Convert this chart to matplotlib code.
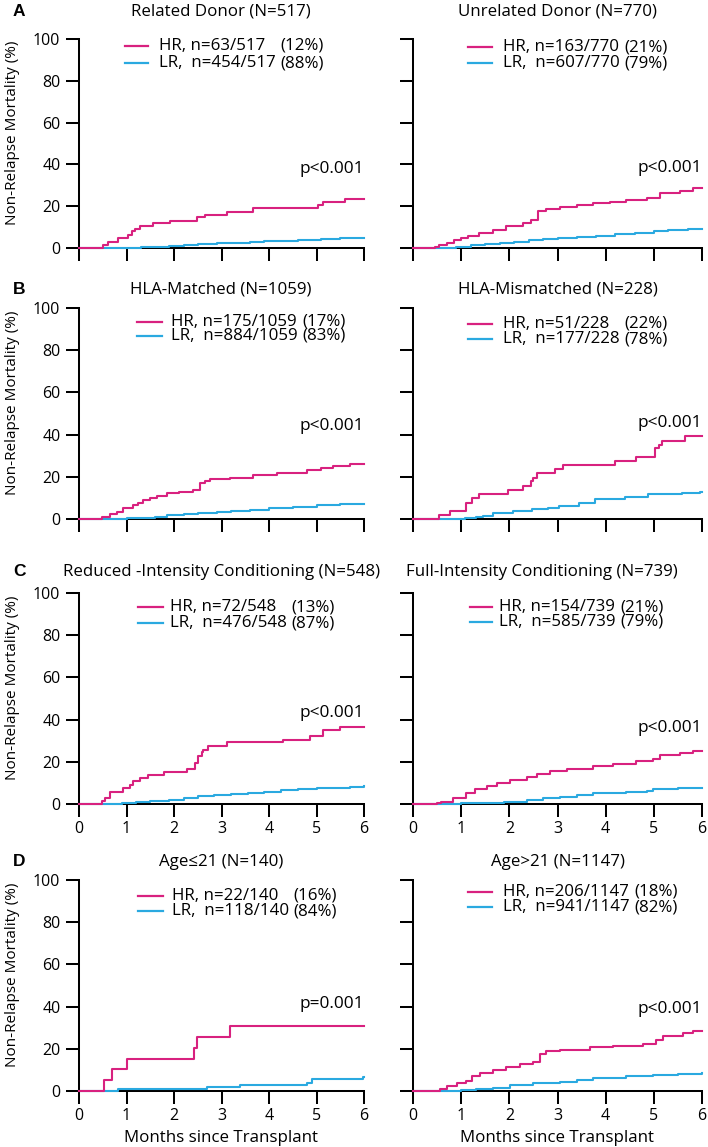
import matplotlib
matplotlib.use("Agg")
import matplotlib.pyplot as plt
from matplotlib.lines import Line2D

plt.rcParams["font.family"] = ["Open Sans", "DejaVu Sans"]

HR_COLOR = "#d8217f"
LR_COLOR = "#2aa9e0"

# months since transplant / cumulative NRM (%)
rd_hr_t = [0, 0.51, 0.62, 0.83, 1.04, 1.11, 1.18, 1.28, 1.56, 1.92, 2.48, 2.65, 3.11, 3.67, 5.04, 5.14, 5.6, 6]
rd_hr_y = [0, 1.4, 3.1, 4.7, 6.4, 8.1, 9.3, 10.4, 11.9, 13.1, 14.6, 16.0, 17.4, 19.0, 20.4, 21.9, 23.6, 23.6]
rd_lr_t = [0, 0.95, 1.3, 1.7, 1.9, 2.2, 2.5, 2.9, 3.2, 3.6, 3.9, 4.3, 4.6, 5.1, 5.5, 6]
rd_lr_y = [0, 0.2, 0.4, 0.7, 1.0, 1.4, 1.8, 2.2, 2.6, 2.9, 3.2, 3.5, 3.8, 4.3, 4.6, 4.6]

ud_hr_t = [0, 0.45, 0.55, 0.7, 0.85, 1.0, 1.15, 1.36, 1.67, 1.94, 2.29, 2.46, 2.6, 2.77, 3.05, 3.4,
           3.74, 4.1, 4.43, 4.85, 5.12, 5.54, 5.82, 6]
ud_hr_y = [0, 0.7, 1.5, 2.6, 3.6, 4.6, 5.8, 7.3, 8.8, 10.4, 12.0, 13.6, 17.5, 18.8, 19.8, 20.6,
           21.4, 22.1, 22.8, 24.0, 26.3, 27.5, 28.8, 28.8]
ud_lr_t = [0, 0.6, 0.9, 1.2, 1.5, 1.8, 2.1, 2.4, 2.7, 3.0, 3.4, 3.8, 4.2, 4.6, 5.0, 5.3, 5.7, 6]
ud_lr_y = [0, 0.2, 0.6, 1.2, 1.9, 2.5, 3.1, 3.7, 4.3, 4.8, 5.3, 5.9, 6.5, 7.2, 8.0, 8.7, 9.2, 9.3]

hm_hr_t = [0, 0.48, 0.65, 0.8, 0.93, 1.14, 1.25, 1.35, 1.5, 1.64, 1.85, 2.1, 2.41, 2.55, 2.65, 2.76,
           3.18, 3.67, 4.16, 4.79, 5.1, 5.35, 5.7, 6]
hm_hr_y = [0, 1.1, 2.5, 3.5, 5.0, 6.5, 7.4, 9.0, 10.0, 11.0, 12.1, 12.8, 13.7, 16.9, 18.0, 18.9,
           19.5, 20.8, 21.9, 23.1, 24.0, 25.0, 26.0, 26.0]
hm_lr_t = [0, 0.7, 1.0, 1.3, 1.6, 1.85, 2.2, 2.5, 2.9, 3.2, 3.6, 4.0, 4.5, 5.0, 5.5, 6]
hm_lr_y = [0, 0.2, 0.4, 0.7, 1.1, 1.8, 2.4, 3.0, 3.4, 3.8, 4.4, 5.0, 5.7, 6.4, 6.9, 6.9]

mm_hr_t = [0, 0.55, 0.77, 1.11, 1.22, 1.36, 1.98, 2.29, 2.46, 2.5, 2.57, 2.95, 3.12, 4.19, 4.64,
           5.02, 5.1, 5.16, 5.64, 6]
mm_hr_y = [0, 2.0, 4.0, 7.6, 9.8, 11.8, 13.9, 15.8, 18.2, 19.5, 21.6, 23.7, 25.6, 27.6, 29.5,
           33.5, 35.0, 37.1, 39.3, 39.3]
mm_lr_t = [0, 0.6, 1.07, 1.3, 1.46, 1.66, 2.07, 2.48, 2.8, 3.03, 3.44, 3.78, 4.4, 4.88, 5.58, 5.96, 6]
mm_lr_y = [0, 0.2, 0.5, 1.0, 1.6, 3.0, 3.9, 4.6, 5.4, 6.2, 7.4, 9.5, 10.4, 11.8, 12.4, 12.8, 12.8]

ric_hr_t = [0, 0.48, 0.55, 0.65, 0.93, 1.07, 1.14, 1.28, 1.46, 1.78, 2.27, 2.44, 2.51, 2.58, 2.62,
            2.72, 3.11, 4.3, 4.86, 5.14, 5.49, 6]
ric_hr_y = [0, 1.3, 3.0, 5.5, 7.6, 9.2, 11.0, 12.3, 13.6, 15.0, 16.6, 19.4, 22.6, 24.5, 25.8,
            27.6, 29.4, 30.5, 32.1, 35.2, 36.5, 36.5]
ric_lr_t = [0, 0.55, 0.9, 1.2, 1.5, 1.9, 2.2, 2.5, 2.85, 3.2, 3.55, 3.9, 4.25, 4.6, 5.0, 5.3, 5.7, 6]
ric_lr_y = [0, 0.2, 0.5, 0.9, 1.3, 2.0, 2.7, 3.6, 4.2, 4.6, 5.1, 5.7, 6.4, 7.0, 7.5, 7.8, 8.2, 8.3]

fic_hr_t = [0, 0.5, 0.59, 0.84, 1.11, 1.29, 1.53, 1.74, 2.01, 2.36, 2.57, 2.84, 3.19, 3.74, 4.16,
            4.64, 4.98, 5.12, 5.54, 5.82, 6]
fic_hr_y = [0, 0.5, 1.1, 2.7, 5.2, 7.1, 8.7, 10.0, 11.6, 12.7, 14.3, 15.6, 16.7, 17.9, 19.0,
            20.2, 21.1, 23.0, 24.1, 25.1, 25.1]
fic_lr_t = [0, 1.0, 1.4, 1.88, 2.36, 2.7, 3.05, 3.4, 3.74, 4.43, 4.85, 4.98, 5.5, 6]
fic_lr_y = [0, 0.3, 0.7, 1.1, 2.1, 2.7, 3.2, 4.2, 5.2, 5.9, 6.2, 7.1, 7.4, 7.5]

young_hr_t = [0, 0.53, 0.69, 1.0, 2.43, 2.48, 3.18, 6]
young_hr_y = [0, 5.2, 10.3, 15.4, 20.6, 25.4, 30.6, 30.6]
young_lr_t = [0, 0.55, 0.83, 2.69, 3.39, 4.79, 4.9, 5.97, 6]
young_lr_y = [0, 0.2, 1.0, 1.9, 2.9, 3.7, 5.7, 6.8, 6.8]

old_hr_t = [0, 0.56, 0.7, 0.91, 1.11, 1.22, 1.39, 1.67, 1.94, 2.22, 2.5, 2.63, 2.77, 3.05, 3.67,
            4.16, 4.78, 5.05, 5.19, 5.6, 5.82, 6]
old_hr_y = [0, 0.8, 2.4, 3.9, 4.7, 7.1, 8.6, 9.9, 11.3, 12.6, 13.7, 17.3, 18.8, 19.6, 20.7,
            21.5, 22.4, 24.0, 26.2, 27.5, 28.4, 28.4]
old_lr_t = [0, 0.7, 0.99, 1.3, 1.67, 2.01, 2.5, 3.05, 3.4, 3.74, 4.43, 4.98, 5.5, 6]
old_lr_y = [0, 0.2, 0.5, 1.0, 1.6, 2.7, 3.6, 4.4, 5.4, 6.3, 7.1, 7.8, 8.1, 8.3]

titles = ["Related Donor (N=517)", "Unrelated Donor (N=770)",
          "HLA-Matched (N=1059)", "HLA-Mismatched (N=228)",
          "Reduced -Intensity Conditioning (N=548)", "Full-Intensity Conditioning (N=739)",
          "Age\u226421 (N=140)", "Age>21 (N=1147)"]
hr_labels = ["HR, n=63/517", "HR, n=163/770", "HR, n=175/1059", "HR, n=51/228",
             "HR, n=72/548", "HR, n=154/739", "HR, n=22/140", "HR, n=206/1147"]
hr_pcts = ["(12%)", "(21%)", "(17%)", "(22%)", "(13%)", "(21%)", "(16%)", "(18%)"]
lr_labels = ["LR,  n=454/517", "LR,  n=607/770", "LR,  n=884/1059", "LR,  n=177/228",
             "LR,  n=476/548", "LR,  n=585/739", "LR,  n=118/140", "LR,  n=941/1147"]
lr_pcts = ["(88%)", "(79%)", "(83%)", "(78%)", "(87%)", "(79%)", "(84%)", "(82%)"]
p_values = ["p<0.001", "p<0.001", "p<0.001", "p<0.001", "p<0.001", "p<0.001", "p=0.001", "p<0.001"]
p_heights = [38, 38.5, 44, 45.5, 43, 36, 41, 39]
panel_letters = ["A", "B", "C", "D"]

curves = [(rd_hr_t, rd_hr_y, rd_lr_t, rd_lr_y), (ud_hr_t, ud_hr_y, ud_lr_t, ud_lr_y),
          (hm_hr_t, hm_hr_y, hm_lr_t, hm_lr_y), (mm_hr_t, mm_hr_y, mm_lr_t, mm_lr_y),
          (ric_hr_t, ric_hr_y, ric_lr_t, ric_lr_y), (fic_hr_t, fic_hr_y, fic_lr_t, fic_lr_y),
          (young_hr_t, young_hr_y, young_lr_t, young_lr_y), (old_hr_t, old_hr_y, old_lr_t, old_lr_y)]

# layout in pixels
W, H = 708, 1147
cols = [(79, 364), (413, 702)]
rows = [(39, 248), (308, 519), (593, 804), (880, 1091)]
title_y = [12, 290, 572, 862]
title_x = [221, 558, 221, 558, 222, 542, 221, 558]
# legend: line x0, line x1, text x, HR y, LR y
legend_px = [(125, 148, 159, 46, 63), (468, 492, 503, 47, 63),
             (137, 162, 171, 322, 336), (468, 492, 503, 324, 339),
             (138, 163, 170, 607, 623), (470, 492, 499, 607, 622),
             (138, 163, 172, 896, 911), (468, 492, 503, 892, 907)]

FS = 12.2
LW = 1.45


def fx(x):
    return x / W


def fy(y):
    return 1 - y / H


fig = plt.figure(figsize=(W / 100, H / 100), dpi=100)
pct_texts = []

for i, (hr_t, hr_y, lr_t, lr_y) in enumerate(curves):
    r, c = divmod(i, 2)
    x0, x1 = cols[c]
    top, bot = rows[r]
    ax = fig.add_axes([fx(x0), fy(bot), (x1 - x0) / W, (bot - top) / H])
    ax.step(lr_t, lr_y, where="post", color=LR_COLOR, lw=1.5, clip_on=False, zorder=3)
    ax.step(hr_t, hr_y, where="post", color=HR_COLOR, lw=1.5, clip_on=False, zorder=4)
    ax.set_xlim(0, 6)
    ax.set_ylim(0, 100)
    ax.set_xticks(range(7))
    ax.set_yticks(range(0, 101, 20))
    for s in ("top", "right"):
        ax.spines[s].set_visible(False)
    for s in ("left", "bottom"):
        ax.spines[s].set_linewidth(LW)
    ax.tick_params(direction="out", length=9.4, width=LW, labelsize=11.5, pad=4)
    if c == 0:
        ax.set_ylabel("Non-Relapse Mortality (%)", fontsize=11)
        ax.yaxis.set_label_coords(-0.207, 0.55)
    else:
        ax.tick_params(axis="y", labelleft=False)
    if r < 2:
        ax.tick_params(axis="x", labelbottom=False)
    else:
        ax.tick_params(axis="x", pad=3)
    if r == 3:
        ax.set_xlabel("Months since Transplant", fontsize=FS, labelpad=4.5)
    ax.text(6, p_heights[i], p_values[i], ha="right", va="center", fontsize=12.4)

    fig.text(fx(title_x[i]), fy(title_y[r]), titles[i], ha="center", va="center", fontsize=FS)
    if c == 0:
        fig.text(fx(19), fy(title_y[r]), panel_letters[r], ha="center", va="center",
                 fontsize=12.5, fontweight="bold", family="Liberation Sans")

    lx0, lx1, tx, hy, ly = legend_px[i]
    for yy, col in ((hy, HR_COLOR), (ly, LR_COLOR)):
        fig.add_artist(Line2D([fx(lx0), fx(lx1)], [fy(yy), fy(yy)], color=col, lw=1.6,
                              transform=fig.transFigure))
    t_hr = fig.text(fx(tx), fy(hy), hr_labels[i], ha="left", va="center", fontsize=FS)
    t_lr = fig.text(fx(tx), fy(ly), lr_labels[i], ha="left", va="center", fontsize=FS)
    pct_texts.append((t_hr, t_lr, tx, hy, ly, hr_pcts[i], lr_pcts[i]))

# line up the percentages inside each legend
renderer = fig.canvas.get_renderer()
for t_hr, t_lr, tx, hy, ly, p_hr, p_lr in pct_texts:
    wmax = max(t_hr.get_window_extent(renderer).width, t_lr.get_window_extent(renderer).width)
    px = tx + wmax + 4.5
    fig.text(fx(px), fy(hy), p_hr, ha="left", va="center", fontsize=FS)
    fig.text(fx(px), fy(ly), p_lr, ha="left", va="center", fontsize=FS)

fig.savefig("out.png", dpi=100)
